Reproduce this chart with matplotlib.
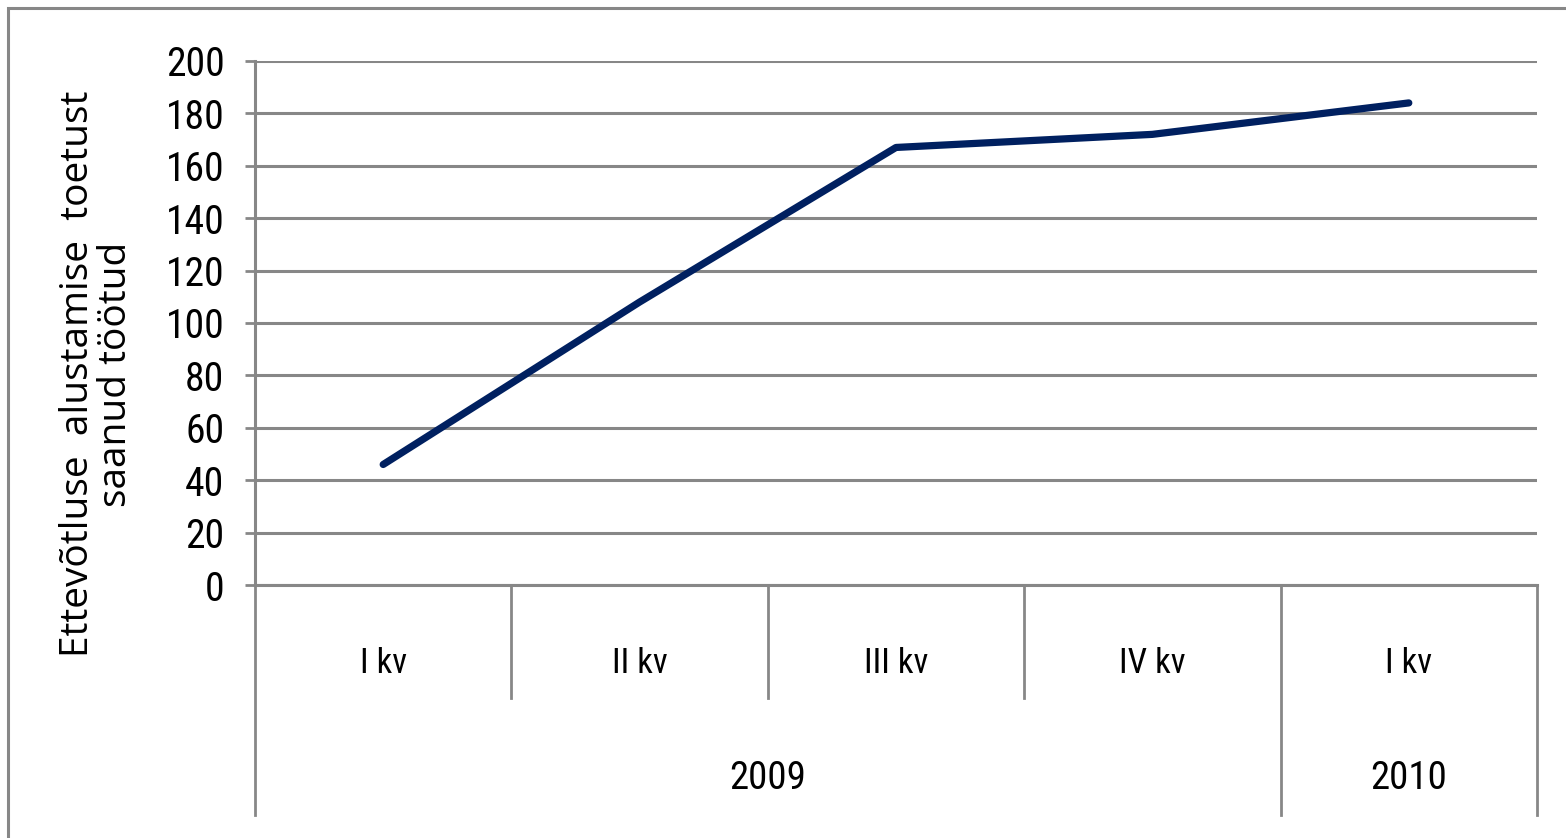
import matplotlib
matplotlib.use('Agg')
from matplotlib import pyplot as plt
from matplotlib.patches import Rectangle

# data
quarters = ['I kv', 'II kv', 'III kv', 'IV kv', 'I kv']
years = ['2009', '2010']
year_span = [4, 1]          # how many quarters belong to each year
values = [46, 108, 167, 172, 184]
y_ticks = list(range(0, 201, 20))

GRID = '#878787'
LINE = '#002060'
narrow = ['Roboto Condensed', 'Liberation Sans Narrow', 'Roboto']

fig = plt.figure(figsize=(15.66, 8.38), dpi=100)
W, H = 1566, 838

# outer chart border (only left and top visible in the original)
fig.patches.append(Rectangle((8 / W, -0.1), 1.2, (838 - 8) / H + 0.1, transform=fig.transFigure,
                             fill=False, ec=GRID, lw=2.2))

ax = fig.add_axes([255 / W, (H - 585) / H, (1537 - 255) / W, (585 - 61) / H])
x = list(range(len(values)))
ax.plot(x, values, color=LINE, lw=5.2, solid_capstyle='round', solid_joinstyle='round', zorder=3)

ax.set_xlim(-0.5, len(values) - 0.5)
ax.set_ylim(0, 200)
ax.set_yticks(y_ticks)
ax.set_yticklabels([str(t) for t in y_ticks], family=narrow, fontsize=28.5)
ax.tick_params(axis='y', length=7, width=2, color=GRID, pad=15)
ax.set_xticks([])
ax.grid(axis='y', color=GRID, lw=2.2)
ax.set_axisbelow(True)

for s in ['top', 'right']:
    ax.spines[s].set_visible(False)
for s in ['left', 'bottom']:
    ax.spines[s].set_color(GRID)
    ax.spines[s].set_linewidth(2.2)

# y axis title sits a bit below the middle of the plot in the original
fig.text(97 / W, 1 - 374 / H, 'Ettevõtluse  alustamise  toetust\nsaanud töötud',
         rotation=90, ha='center', va='center', multialignment='center',
         family=['Open Sans', 'DejaVu Sans'], fontsize=28, linespacing=0.97)

# multi-level category axis drawn below the plot
tr = ax.get_xaxis_transform()
ah = 585 - 61
y_mid = -(698 - 585) / ah
y_bot = -(815 - 585) / ah
y_q = -(663 - 585) / ah
y_y = -(778 - 585) / ah

for i, q in enumerate(quarters):
    ax.text(i, y_q, q, transform=tr, ha='center', va='center', family=narrow, fontsize=25)

# year boundaries get full height separators, others only the upper row
bounds = [-0.5]
for n in year_span:
    bounds.append(bounds[-1] + n)
for k in range(len(values) + 1):
    b = k - 0.5
    low = y_bot if b in bounds else y_mid
    ax.plot([b, b], [0, low], transform=tr, color=GRID, lw=2, clip_on=False)

start = -0.5
for yr, n in zip(years, year_span):
    ax.text(start + n / 2, y_y, yr, transform=tr, ha='center', va='center', family=narrow, fontsize=28)
    start += n

fig.savefig('out.png', dpi=100, facecolor='white')
